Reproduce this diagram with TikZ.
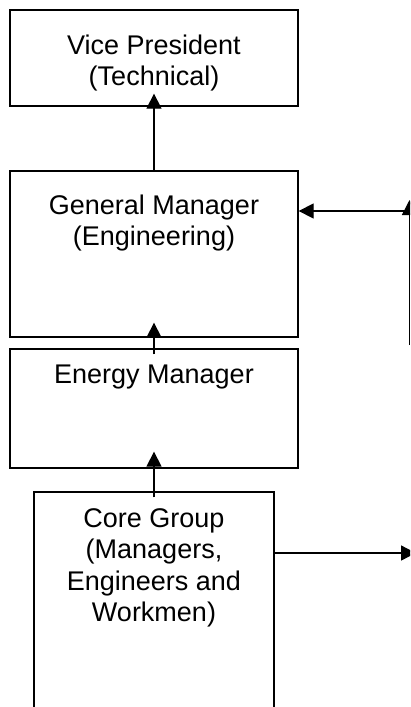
\documentclass[tikz,border=0pt]{standalone}
\usepackage{fontspec}
\setmainfont{Liberation Sans}
\usetikzlibrary{arrows.meta}
\begin{document}
\begin{tikzpicture}[x=1pt,y=-1pt,
  box/.style={draw=black, line width=1.3pt, rectangle, inner sep=0pt, fill=none},
  txt/.style={inner sep=0pt, align=center, anchor=north, font=\fontsize{27}{31.5}\selectfont},
  conn/.style={draw=black, line width=1.3pt, -{Triangle[length=15pt,width=15pt]}}]
\useasboundingbox (0,0) rectangle (410,707);
\clip (0,0) rectangle (410,707);
% boxes
\node[box, minimum width=288pt, minimum height=96pt] (VP) at (154,58) {};
\node[box, minimum width=288pt, minimum height=166pt] (GM) at (154,254) {};
\node[box, minimum width=288pt, minimum height=119pt] (EM) at (154,408.5) {};
\node[box, minimum width=240pt, minimum height=240pt] (CG) at (154,612) {};
% texts
\node[txt] (VPt) at ([yshift=-25pt]VP.north) {Vice President\\(Technical)};
\node[txt] (GMt) at ([yshift=-24pt]GM.north) {General Manager\\(Engineering)};
\node[txt] (EMt) at ([yshift=-16pt]EM.north) {Energy Manager};
\node[txt] (CGt) at ([yshift=-17pt]CG.north) {Core Group\\(Managers,\\Engineers and\\Workmen)};
% free ends at the right edge
\coordinate (R1) at (409.5,211);
\coordinate (Rtop) at (409.5,200);
\coordinate (Rbot) at (409.5,345);
\coordinate (R3) at (416,553);
% connectors
\draw[conn] (GM.north) -- ([yshift=13pt]VP.south);
\draw[conn] ([yshift=-6pt]EM.north) -- ([yshift=15pt]GM.south);
\draw[conn] ([yshift=-6pt]CG.north) -- ([yshift=17pt]EM.south);
\draw[conn] (R1) -- (R1 -| GM.east);
\draw[conn] (Rbot) -- (Rtop);
\draw[conn] (R3 -| CG.east) -- (R3);
\end{tikzpicture}
\end{document}
